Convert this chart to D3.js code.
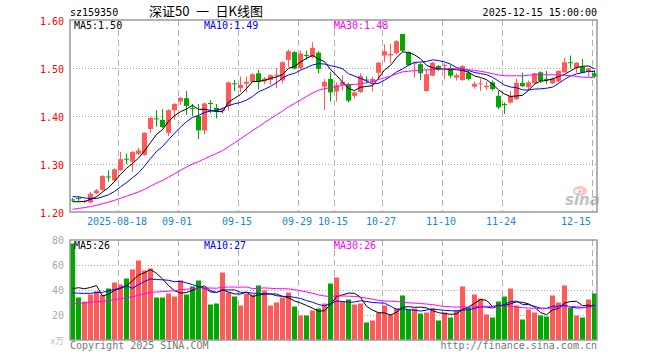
<!DOCTYPE html>
<html>
<head>
<meta charset="utf-8">
<script src="https://cdn.jsdelivr.net/npm/d3@7"></script>
<style>
	body { margin: 0; background: #fff; }
	text { font-family: "DejaVu Sans Mono", monospace; font-size: 10px; }
</style>
</head>
<body>
<svg width="660" height="360"></svg>
<script>
// trading days shown (2025-08-06 .. 2025-12-15)
var dates = [
	"08-06","08-07","08-08","08-11","08-12","08-13","08-14","08-15","08-18","08-19",
	"08-20","08-21","08-22","08-25","08-26","08-27","08-28","08-29","09-01","09-02",
	"09-03","09-04","09-05","09-08","09-09","09-10","09-11","09-12","09-15","09-16",
	"09-17","09-18","09-19","09-22","09-23","09-24","09-25","09-26","09-29","09-30",
	"10-09","10-10","10-13","10-14","10-15","10-16","10-17","10-20","10-21","10-22",
	"10-23","10-24","10-27","10-28","10-29","10-30","10-31","11-03","11-04","11-05",
	"11-06","11-07","11-10","11-11","11-12","11-13","11-14","11-17","11-18","11-19",
	"11-20","11-21","11-24","11-25","11-26","11-27","11-28","12-01","12-02","12-03",
	"12-04","12-05","12-08","12-09","12-10","12-11","12-12","12-15"
];

var openP = [
	1.226,1.229,1.222,1.220,1.239,1.246,1.274,1.266,1.287,1.311,
	1.305,1.321,1.319,1.373,1.395,1.392,1.365,1.412,1.430,1.437,
	1.417,1.400,1.370,1.427,1.417,1.411,1.421,1.468,1.458,1.467,
	1.471,1.489,1.472,1.475,1.484,1.474,1.517,1.533,1.500,1.527,
	1.523,1.532,1.461,1.477,1.451,1.465,1.467,1.442,1.450,1.476,
	1.471,1.490,1.526,1.526,1.531,1.571,1.533,1.508,1.508,1.452,
	1.484,1.504,1.504,1.499,1.480,1.475,1.490,1.461,1.467,1.460,
	1.470,1.442,1.425,1.428,1.435,1.469,1.460,1.468,1.491,1.477,
	1.468,1.472,1.491,1.512,1.500,1.502,1.492,1.489
];
var highP = [
	1.229,1.233,1.225,1.242,1.248,1.277,1.287,1.291,1.325,1.322,
	1.327,1.334,1.366,1.398,1.412,1.414,1.414,1.427,1.440,1.452,
	1.425,1.425,1.428,1.433,1.425,1.418,1.472,1.475,1.482,1.482,
	1.489,1.496,1.481,1.487,1.500,1.514,1.539,1.535,1.536,1.536,
	1.554,1.535,1.477,1.492,1.470,1.485,1.469,1.452,1.489,1.483,
	1.482,1.513,1.549,1.550,1.558,1.571,1.534,1.513,1.510,1.496,
	1.513,1.506,1.510,1.507,1.489,1.506,1.496,1.472,1.478,1.472,
	1.474,1.452,1.428,1.452,1.478,1.490,1.474,1.490,1.493,1.494,
	1.480,1.495,1.521,1.526,1.512,1.519,1.500,1.496
];
var lowP = [
	1.222,1.222,1.218,1.218,1.237,1.244,1.263,1.262,1.285,1.300,
	1.284,1.318,1.317,1.365,1.378,1.375,1.358,1.392,1.423,1.402,
	1.400,1.352,1.362,1.406,1.395,1.404,1.411,1.452,1.449,1.449,
	1.470,1.455,1.466,1.465,1.458,1.468,1.502,1.497,1.497,1.517,
	1.520,1.489,1.412,1.430,1.430,1.454,1.428,1.437,1.448,1.468,
	1.451,1.475,1.512,1.510,1.529,1.534,1.504,1.480,1.475,1.451,
	1.483,1.494,1.477,1.479,1.474,1.473,1.474,1.457,1.452,1.454,
	1.453,1.414,1.404,1.426,1.434,1.461,1.453,1.467,1.469,1.467,
	1.466,1.470,1.490,1.499,1.490,1.489,1.482,1.480
];
var closeP = [
	1.225,1.227,1.223,1.238,1.245,1.275,1.272,1.289,1.310,1.309,
	1.325,1.328,1.365,1.396,1.393,1.377,1.412,1.425,1.438,1.421,
	1.415,1.370,1.426,1.426,1.409,1.414,1.470,1.466,1.465,1.471,
	1.487,1.471,1.478,1.485,1.486,1.512,1.535,1.499,1.530,1.525,
	1.542,1.498,1.471,1.449,1.464,1.471,1.432,1.449,1.483,1.474,
	1.477,1.511,1.535,1.529,1.556,1.536,1.506,1.510,1.489,1.487,
	1.511,1.496,1.506,1.484,1.485,1.504,1.477,1.467,1.468,1.463,
	1.456,1.418,1.424,1.442,1.469,1.462,1.470,1.489,1.473,1.476,
	1.478,1.494,1.512,1.510,1.511,1.490,1.499,1.482
];
var volume = [
	77.2,34,30.8,36.4,39,36,41.2,46,44.4,49.2,
	56.4,63.6,55.6,57.2,34,34,37.2,34.8,47.6,36.4,
	42.8,47.6,42,28.4,29.2,54,38,34.8,27.6,37.2,
	36.4,43.6,39.6,27.6,30,34,38,26.8,19.6,19.6,
	23.6,25.2,29.2,45.2,50,30.8,32.4,28.4,29.2,14,
	15.6,22,27.6,20.4,25.2,35.6,24.4,25.2,21.2,22,
	25.2,15.6,22,18,23.6,42.8,26,36.4,33.2,20.4,
	18,30.8,34.8,41.2,27.6,16.4,24.4,22,19.6,18.8,
	35.6,30,43.6,26,19.6,18,32.4,37.2
];

// sessions before the window, estimated from where the MA lines start
var prevClose = [
	1.170,1.175,1.170,1.168,1.172,1.175,1.180,1.178,1.185,1.190,
	1.195,1.200,1.198,1.205,1.210,1.208,1.212,1.215,1.220,1.222,
	1.232,1.245,1.250,1.248,1.2375,1.228,1.220,1.215,1.2195
];
var prevVolume = [
	22,26,20,24,28,23,21,25,27,30,
	22,24,26,23,25,28,24,22,26,26,
	38,32,36,33,34,30,35,31,32
];

var dateTicks = ["08-18","09-01","09-15","09-29","10-15","10-27","11-10","11-24","12-15"];
var dateTickLabels = ["2025-08-18","09-01","09-15","09-29","10-15","10-27","11-10","11-24","12-15"];
var priceTicks = [1.20, 1.30, 1.40, 1.50, 1.60];
var volTicks = [20, 40, 60, 80];
var maPeriods = [5, 10, 30];
var priceMaText = ["MA5:1.50", "MA10:1.49", "MA30:1.48"];
var volMaText = ["MA5:26", "MA10:27", "MA30:26"];

var maColors = ["#000000", "#0000ff", "#ff00ff"];
var upColor = "#ff5a5a", downColor = "#00a800";

var svg = d3.select("svg");
var left = 70, right = 597;
var pTop = 20, pBottom = 212, vTop = 240, vBottom = 340;

var x = d3.scaleBand().domain(dates).range([69, 597]).padding(0);
var y = d3.scaleLinear().domain([1.2, 1.6]).range([pBottom, pTop]);
var yv = d3.scaleLinear().domain([0, 80]).range([vBottom, vTop]);

function movingAvg(prev, vals, n) {
	var all = prev.concat(vals);
	return vals.map(function(v, i) {
		var end = prev.length + i;
		return d3.mean(all.slice(end - n + 1, end + 1));
	});
}

function isUp(i) {
	return closeP[i] >= openP[i];
}

// header
svg.append("text").attr("x", 70).attr("y", 16).text("sz159350");
svg.append("text").attr("x", 206).attr("y", 16).attr("text-anchor", "middle")
	.style("font-family", "'Noto Sans CJK SC', sans-serif").style("font-size", "13px")
	.text("深证50\u2002一\u2002日K线图");
svg.append("text").attr("x", 597).attr("y", 16).attr("text-anchor", "end").text("2025-12-15 15:00:00");

svg.append("defs").append("clipPath").attr("id", "clipP")
	.append("rect").attr("x", left).attr("y", pTop).attr("width", right - left).attr("height", pBottom - pTop);
svg.select("defs").append("clipPath").attr("id", "clipV")
	.append("rect").attr("x", left).attr("y", vTop).attr("width", right - left).attr("height", vBottom - vTop);

// grid lines
function drawGrid(top, bottom, scale, ticks) {
	svg.append("g").selectAll("line").data(dateTicks).enter().append("line")
		.attr("x1", function(d) { return x(d) + 1.5; })
		.attr("x2", function(d) { return x(d) + 1.5; })
		.attr("y1", top).attr("y2", bottom)
		.attr("stroke", "#b0b0b0").attr("stroke-dasharray", "6,4");
	svg.append("g").selectAll("line").data(ticks).enter().append("line")
		.attr("x1", left).attr("x2", right)
		.attr("y1", function(d) { return Math.round(scale(d)) + 0.5; })
		.attr("y2", function(d) { return Math.round(scale(d)) + 0.5; })
		.attr("stroke", "#aaaaaa").attr("stroke-dasharray", "1,2");
}
drawGrid(pTop, pBottom, y, [1.3, 1.4, 1.5]);
drawGrid(vTop, vBottom, yv, [20, 40, 60]);

// sina watermark
var logo = svg.append("g").attr("opacity", 0.6);
logo.append("ellipse").attr("cx", 580).attr("cy", 191).attr("rx", 7).attr("ry", 5).attr("fill", "#f3a0a0");
logo.append("ellipse").attr("cx", 579).attr("cy", 191.5).attr("rx", 4).attr("ry", 2.5).attr("fill", "#fff");
logo.append("circle").attr("cx", 580).attr("cy", 191.5).attr("r", 1.6).attr("fill", "#e77");
logo.append("text").attr("x", 565).attr("y", 205)
	.style("font-family", "'DejaVu Sans', sans-serif").style("font-size", "15px")
	.style("font-weight", "bold").style("font-style", "italic").attr("fill", "#999")
	.text("sina");

// candles
var candles = svg.append("g").attr("clip-path", "url(#clipP)");
candles.selectAll(".wick").data(dates).enter().append("line")
	.attr("x1", function(d) { return x(d) + 3.5; })
	.attr("x2", function(d) { return x(d) + 3.5; })
	.attr("y1", function(d, i) { return y(highP[i]); })
	.attr("y2", function(d, i) { return y(lowP[i]); })
	.attr("stroke", function(d, i) { return isUp(i) ? upColor : downColor; });
candles.selectAll(".body").data(dates).enter().append("rect")
	.attr("x", function(d) { return x(d) + 1; })
	.attr("width", 5)
	.attr("y", function(d, i) { return y(Math.max(openP[i], closeP[i])); })
	.attr("height", function(d, i) { return Math.max(1, Math.abs(y(openP[i]) - y(closeP[i]))); })
	.attr("fill", function(d, i) { return isUp(i) ? upColor : downColor; });

// volume bars
var bars = svg.append("g").attr("clip-path", "url(#clipV)");
bars.selectAll("rect").data(volume).enter().append("rect")
	.attr("x", function(d, i) { return x(dates[i]) + 1; })
	.attr("width", 5)
	.attr("y", function(d) { return yv(d); })
	.attr("height", function(d) { return vBottom - yv(d); })
	.attr("fill", function(d, i) { return isUp(i) ? upColor : downColor; });

// moving average lines
maPeriods.forEach(function(n, k) {
	var pm = movingAvg(prevClose, closeP, n);
	var vm = movingAvg(prevVolume, volume, n);
	var lineP = d3.line()
		.x(function(d, i) { return x(dates[i]) + 3.5; })
		.y(function(d) { return y(d); });
	var lineV = d3.line()
		.x(function(d, i) { return x(dates[i]) + 3.5; })
		.y(function(d) { return yv(d); });
	candles.append("path").attr("d", lineP(pm)).attr("fill", "none")
		.attr("stroke", maColors[k]).attr("stroke-width", 1);
	bars.append("path").attr("d", lineV(vm)).attr("fill", "none")
		.attr("stroke", maColors[k]).attr("stroke-width", 1);
	svg.append("text").attr("x", 74 + 130 * k).attr("y", 29).attr("fill", maColors[k]).text(priceMaText[k]);
	svg.append("text").attr("x", 74 + 130 * k).attr("y", 249).attr("fill", maColors[k]).text(volMaText[k]);
});

// frames
[[pTop, pBottom], [vTop, vBottom]].forEach(function(p) {
	svg.append("rect").attr("x", left).attr("y", p[0])
		.attr("width", right - left).attr("height", p[1] - p[0])
		.attr("fill", "none").attr("stroke", "#999").attr("stroke-width", 1.5);
});

// axes labels
var gy = svg.append("g").attr("transform", "translate(" + (left - 3) + ",1.5)")
	.call(d3.axisLeft(y).tickValues(priceTicks).tickSize(0).tickFormat(d3.format(".2f")));
gy.select(".domain").remove();
gy.selectAll("text").attr("fill", "#ff0000").style("font-family", "'DejaVu Sans Mono', monospace").style("font-size", "10px");

var gv = svg.append("g").attr("transform", "translate(" + (left - 3) + ",0)")
	.call(d3.axisLeft(yv).tickValues(volTicks).tickSize(0));
gv.select(".domain").remove();
gv.selectAll("text").attr("fill", "#a8a8a8").style("font-family", "'DejaVu Sans Mono', monospace").style("font-size", "10px");
svg.append("text").attr("x", 64).attr("y", 344).attr("text-anchor", "end").attr("fill", "#bbb")
	.style("font-family", "'Noto Sans CJK SC', sans-serif").style("font-size", "9px").text("x万");

var gx = svg.append("g").attr("transform", "translate(-3," + (pBottom + 3) + ")")
	.call(d3.axisBottom(x).tickValues(dateTicks).tickSize(0)
		.tickFormat(function(d, i) { return dateTickLabels[i]; }));
gx.select(".domain").remove();
gx.selectAll("text").attr("fill", "#1a86d6").style("font-family", "'DejaVu Sans Mono', monospace").style("font-size", "10px");
// last label is pulled inside the frame
gx.selectAll("text").filter(function(d) { return d === dateTicks[dateTicks.length - 1]; })
	.attr("text-anchor", "end").attr("dx", 0);

// footer
svg.append("text").attr("x", 70).attr("y", 349).attr("fill", "#777").text("Copyright 2025 SINA.COM");
svg.append("text").attr("x", 597).attr("y", 349).attr("text-anchor", "end").attr("fill", "#777").text("http://finance.sina.com.cn");
</script>
</body>
</html>
